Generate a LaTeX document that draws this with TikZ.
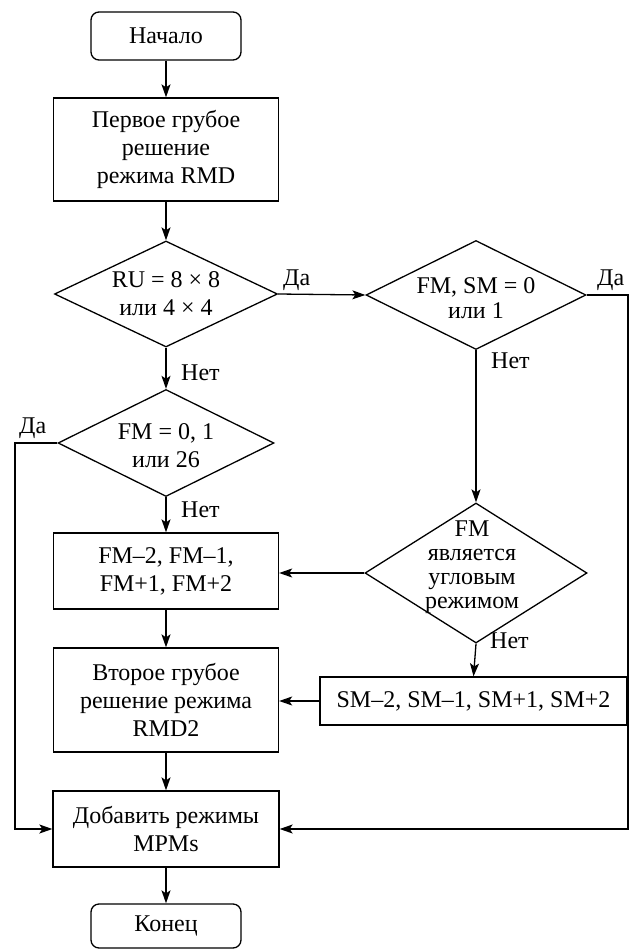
\documentclass[tikz,border=0pt]{standalone}
\usepackage{fontspec}
\setmainfont{Liberation Serif}
\usetikzlibrary{shapes.geometric,arrows.meta,calc}
\begin{document}
\begin{tikzpicture}[x=1pt,y=-1pt,
  every node/.style={font=\fontsize{24}{28}\selectfont, inner sep=0pt},
  box/.style={draw, line width=1.3pt, align=center},
  term/.style={box, rounded corners=8pt},
  dia/.style={draw, line width=1.3pt, diamond, inner sep=0pt},
  txt/.style={align=center},
  lbl/.style={anchor=base west},
  arr/.style={line width=1.3pt, -{Stealth[length=13pt,width=9pt,inset=3pt]}},
  ln/.style={line width=1.3pt}
]
\useasboundingbox (0,0) rectangle (640,949);

\node[term, minimum width=150pt, minimum height=48pt] (start) at (166,36) {Начало};
\node[box, minimum width=225pt, minimum height=103pt] (b1) at (166,149.5) {Первое грубое\\решение\\режима RMD};

\node[dia, minimum width=223pt, minimum height=106pt] (d1) at (166,294) {};
\node[txt] (d1t) at (166,294) {RU = 8 × 8\\или 4 × 4};

\node[dia, minimum width=220pt, minimum height=109pt] (d2) at (476,295) {};
\node[txt, font=\fontsize{24}{25}\selectfont] (d2t) at (476,298) {FM, SM = 0\\или 1};

\node[dia, minimum width=216pt, minimum height=107pt] (d4) at (166,443) {};
\node[txt] (d4t) at (166,446) {FM = 0, 1\\или 26};

\node[dia, minimum width=222pt, minimum height=140pt] (d3) at (476,573) {};
\node[txt, font=\fontsize{24}{24}\selectfont] (d3t) at (472,567) {FM\\является\\угловым\\режимом};

\node[box, minimum width=225pt, minimum height=76pt] (fm) at (166,571) {FM–2, FM–1,\\FM+1, FM+2};
\node[box, minimum width=307pt, minimum height=48pt] (sm) at (473.5,701) {SM–2, SM–1, SM+1, SM+2};
\node[box, minimum width=225pt, minimum height=104pt] (b2) at (166,700) {Второе грубое\\решение режима\\RMD2};
\node[box, minimum width=226pt, minimum height=76pt] (add) at (166,829) {Добавить режимы\\MPMs};
\node[term, minimum width=150pt, minimum height=44pt] (end) at (166,926) {Конец};

\coordinate (r1) at (628,295);
\coordinate (l1) at (15,443);

\draw[arr] (start) -- (b1);
\draw[arr] (b1) -- (d1.north);
\draw[arr] (d1.east) -- (d2.west);
\draw[arr] (d1.south) -- (d4.north);
\draw[arr] (d2.south) -- (d3.north);
\draw[arr] (d2.east) -- (r1) |- (add.east);
\draw[arr] (d4.west) -- (l1) |- (add.west);
\draw[arr] (d4.south) -- (fm.north);
\draw[arr] (d3.west) -- (d3.west -| fm.east);
\draw[arr] (d3.south) -- (sm.north);
\draw[arr] (sm.west) -- (sm.west -| b2.east);
\draw[arr] (fm) -- (b2);
\draw[arr] (b2) -- (add);
\draw[arr] (add) -- (end);

\node[lbl] (la1) at (283,286) {Да};
\node[lbl] (la2) at (597,285) {Да};
\node[lbl] (la3) at (19,433) {Да};
\node[lbl] (ln1) at (181,380) {Нет};
\node[lbl] (ln2) at (491,368) {Нет};
\node[lbl] (ln3) at (181,517) {Нет};
\node[lbl] (ln4) at (490,648) {Нет};
\end{tikzpicture}
\end{document}
